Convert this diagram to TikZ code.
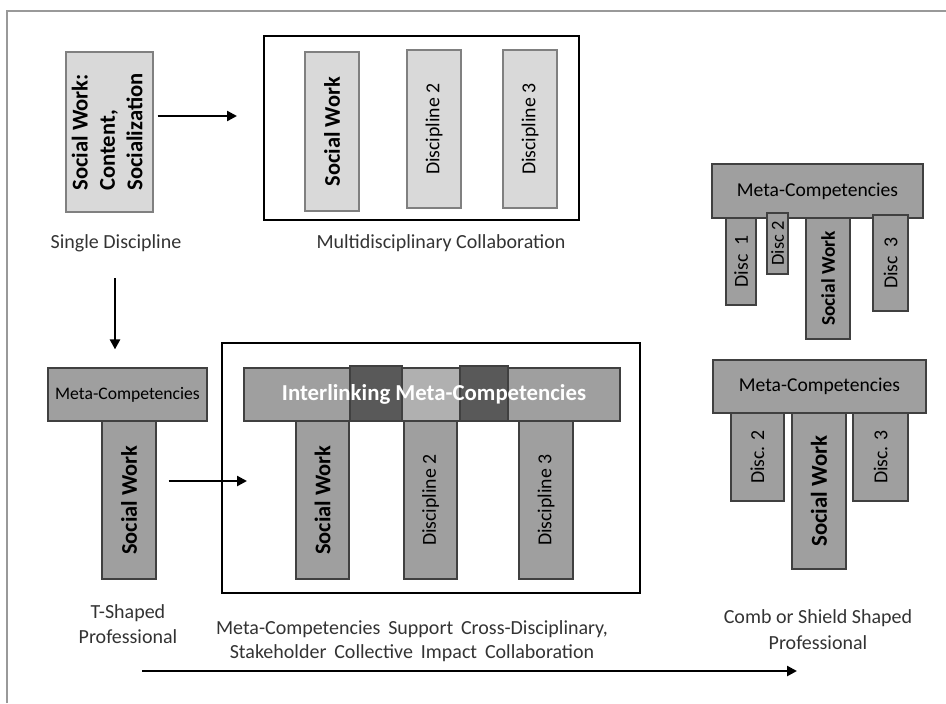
\documentclass[tikz,border=0pt]{standalone}
\usepackage{fontspec}
\setmainfont{Carlito}
\usepackage{graphicx}
\usetikzlibrary{arrows.meta}
\tikzset{
  lbar/.style={draw=gray,fill=gray!30,line width=.6pt,inner sep=0pt},
  dbar/.style={draw=black!75,fill=gray!75,line width=.6pt,inner sep=0pt},
  kbar/.style={draw=black!75,fill=black!65,line width=.6pt,inner sep=0pt},
  frame/.style={draw=black,line width=1.4pt,inner sep=0pt},
  lab/.style={align=center,text=black!80,font=\fontsize{10}{12.5}\selectfont},
  arr/.style={line width=1.2pt,-{Triangle[length=5pt,width=5pt]}}
}
\newcommand{\vt}[1]{\rotatebox{90}{#1}}
\newcommand{\swb}{\fontsize{11.2}{13}\selectfont\bfseries}
\newcommand{\dsc}{\fontsize{9.9}{12}\selectfont}
\begin{document}
\begin{tikzpicture}[x=.5pt,y=-.5pt]
  \useasboundingbox (0,0) rectangle (946,703);
  \draw[gray!80,line width=.6pt] (7,703) -- (7,11) -- (946,11);
  \node[lbar,minimum width=43.5pt,minimum height=80pt] (s1) at (109.5,132) {\vt{\fontsize{11.3}{13.7}\selectfont\bfseries\begin{tabular}{@{}l@{}}Social Work:\\Content,\\Socialization\end{tabular}}};
  \node[lab] (l1) at (116,243) {Single Discipline};
  \node[frame,minimum width=157.5pt,minimum height=92pt] (mb) at (421.5,128) {};
  \node[lbar,minimum width=27pt,minimum height=79.5pt] (m1) at (332,131.5) {\vt{\swb Social Work}};
  \node[lbar,minimum width=27pt,minimum height=79pt] (m2) at (434,129) {\vt{\dsc Discipline 2}};
  \node[lbar,minimum width=27pt,minimum height=79pt] (m3) at (530,129) {\vt{\dsc Discipline 3}};
  \node[lab] (l2) at (441,243) {Multidisciplinary Collaboration};
  \node[dbar,minimum width=79.5pt,minimum height=26.5pt] (t1) at (127.5,394.5) {\fontsize{8.8}{10}\selectfont Meta-Competencies};
  \node[dbar,minimum width=27pt,minimum height=79pt] (t2) at (129,500) {\vt{\swb Social Work}};
  \node[lab,font=\fontsize{10}{12.5}\selectfont] (l3) at (128,624.5) {T-Shaped\\Professional};
  \node[frame,minimum width=209pt,minimum height=125pt] (cb) at (431,468) {};
  \node[dbar,minimum width=188pt,minimum height=26.5pt] (c0) at (432,394.5) {};
  \node[dbar,draw=none,fill=gray!62,minimum width=29pt,minimum height=25.5pt] (cm) at (431,394.5) {};
  \node[kbar,minimum width=26pt,minimum height=27.5pt] (k1) at (376,393.5) {};
  \node[kbar,minimum width=24pt,minimum height=27.5pt] (k2) at (484,393.5) {};
  \node[text=white,font=\fontsize{11.4}{13}\selectfont\bfseries] (ct) at (434,394) {Interlinking Meta-Competencies};
  \node[dbar,minimum width=26.5pt,minimum height=79pt] (c1) at (322.5,500) {\vt{\swb Social Work}};
  \node[dbar,minimum width=26.5pt,minimum height=79pt] (c2) at (430.5,500) {\vt{\dsc Discipline 2}};
  \node[dbar,minimum width=27pt,minimum height=79pt] (c3) at (546,500) {\vt{\dsc Discipline 3}};
  \node[lab,font=\fontsize{10}{12}\selectfont] (l4) at (412,641) {Meta-Competencies\, Support\, Cross-Disciplinary,\\Stakeholder\, Collective\, Impact\, Collaboration};
  \node[dbar,minimum width=105.5pt,minimum height=27pt] (u0) at (817.5,191) {\fontsize{9.8}{11}\selectfont Meta-Competencies};
  \node[dbar,minimum width=15pt,minimum height=43.5pt] (u1) at (741,261.5) {\vt{\dsc Disc\ \ 1}};
  \node[dbar,minimum width=10.5pt,minimum height=30.5pt] (u2) at (777.5,243.5) {\vt{\fontsize{9.2}{11}\selectfont Disc 2}};
  \node[dbar,minimum width=22pt,minimum height=60.5pt] (u3) at (828,278.5) {\vt{\fontsize{9.7}{11}\selectfont\bfseries Social Work}};
  \node[dbar,minimum width=17.5pt,minimum height=48pt] (u4) at (890.5,263) {\vt{\dsc Disc\ \ 3}};
  \node[dbar,minimum width=106.5pt,minimum height=26.5pt] (w0) at (819.5,386.5) {\fontsize{9.8}{11}\selectfont Meta-Competencies};
  \node[dbar,minimum width=26.5pt,minimum height=44pt] (w1) at (757.5,457) {\vt{\dsc Disc. 2}};
  \node[dbar,minimum width=27pt,minimum height=78pt] (w2) at (819,491) {\vt{\fontsize{11.4}{13}\selectfont\bfseries Social Work}};
  \node[dbar,minimum width=27.5pt,minimum height=44pt] (w3) at (880.5,457) {\vt{\dsc Disc. 3}};
  \node[lab,font=\fontsize{10}{13}\selectfont] (l5) at (818,630) {Comb or Shield Shaped\\Professional};
  \coordinate (a1) at (237,116);
  \coordinate (a2) at (115,278);
  \coordinate (a3) at (247,481);
  \coordinate (a4) at (142,671);
  \coordinate (a5) at (797,671);
  \draw[arr,shorten <=2pt] (s1.east |- a1) -- (a1);
  \draw[arr,shorten >=9pt] (a2) -- (a2 |- t1.north);
  \draw[arr,shorten <=6pt] (t2.east |- a3) -- (a3);
  \draw[arr] (a4) -- (a5);
\end{tikzpicture}
\end{document}
